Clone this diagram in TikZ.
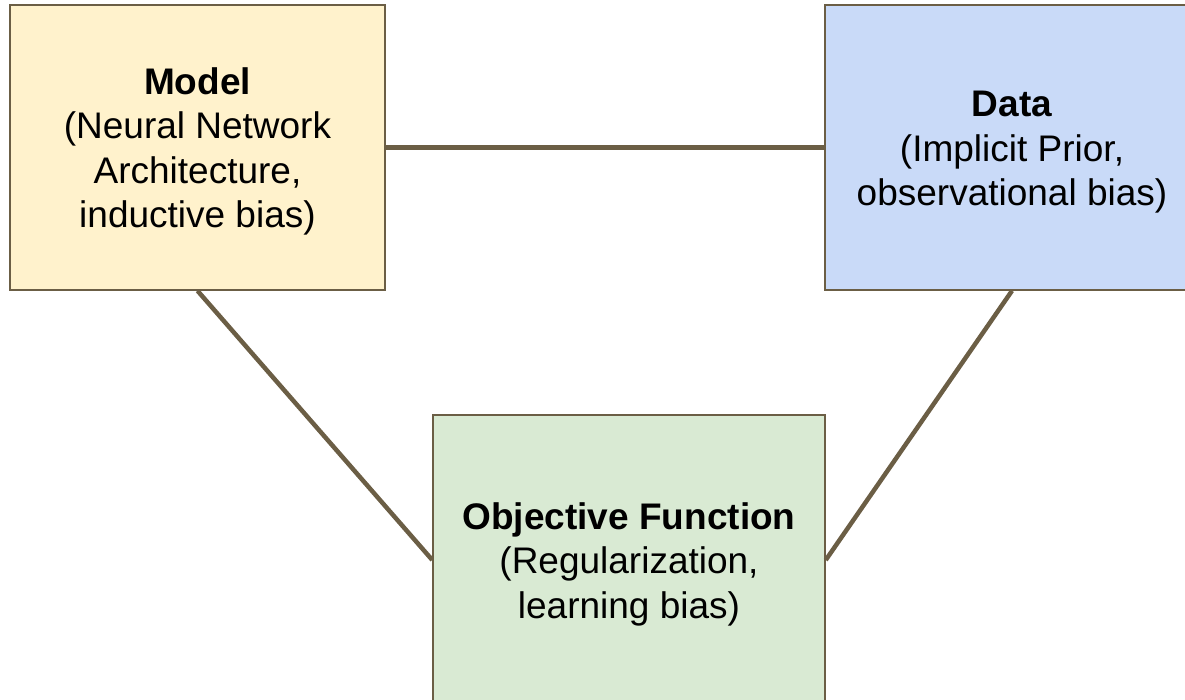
\documentclass[tikz,border=0pt]{standalone}
\usepackage{fontspec}
\setmainfont{Liberation Sans}
\definecolor{edgebrown}{HTML}{6B5E45}
\definecolor{modelfill}{HTML}{FFF2CC}
\definecolor{datafill}{HTML}{C9DAF8}
\definecolor{objfill}{HTML}{D9EAD3}
\newcommand{\headstrut}{\rule{0pt}{35pt}}
\begin{document}
\begin{tikzpicture}[x=1pt, y=-1pt, font=\fontsize{37}{44.5}\selectfont,
          box/.style={draw=edgebrown, line width=1.5pt, align=center, inner sep=0pt},
          modelbox/.style={box, fill=modelfill, minimum width=375pt, minimum height=285pt},
          databox/.style={box, fill=datafill, minimum width=374pt, minimum height=285pt},
          objbox/.style={box, fill=objfill, minimum width=392pt, minimum height=290pt},
          link/.style={draw=edgebrown, line width=4.5pt}]
        \useasboundingbox (0,0) rectangle (1185,700);
        \clip (0,0) rectangle (1185,700);
        \node[modelbox] (model) at (197.5,147.5) {\headstrut\textbf{Model}\\(Neural Network\\Architecture,\\inductive bias)};
        \node[databox] (data) at (1012,147.5) {\headstrut\textbf{Data}\\(Implicit Prior,\\observational bias)};
        \node[objbox] (obj) at (629,560) {\headstrut\textbf{Objective Function}\\(Regularization,\\learning bias)};
        \draw[link] (model) -- (data);
        \draw[link] (model.south) -- (obj.west);
        \draw[link] (data.south) -- (obj.east);
      \end{tikzpicture}
\end{document}
